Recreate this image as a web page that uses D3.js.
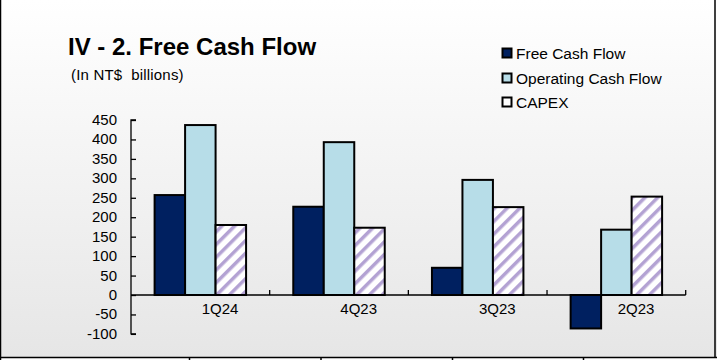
<!DOCTYPE html>
<html><head><meta charset="utf-8">
<script src="https://cdn.jsdelivr.net/npm/d3@7"></script>
<style>html,body{margin:0;padding:0;background:#fff;}svg{display:block;font-family:"Liberation Sans",Arial,sans-serif;}</style>
</head><body>
<script>
const categories = ["1Q24","4Q23","3Q23","2Q23"];
const seriesNames = ["Free Cash Flow","Operating Cash Flow","CAPEX"];
const freeCashFlow = [257, 227, 70, -86];
const operatingCashFlow = [437, 393, 296, 168];
const capex = [180, 173, 226, 253];
const yTicks = [450,400,350,300,250,200,150,100,50,0,-50,-100];

const W = 717, H = 360;
const svg = d3.select("body").append("svg").attr("width", W).attr("height", H);
const defs = svg.append("defs");
const grad = defs.append("linearGradient").attr("id","bg").attr("x1",0).attr("y1",0).attr("x2",0).attr("y2",1);
grad.append("stop").attr("offset","0%").attr("stop-color","#ffffff");
grad.append("stop").attr("offset","100%").attr("stop-color","#e6e6e6");
const pat = defs.append("pattern").attr("id","hatch").attr("patternUnits","userSpaceOnUse")
  .attr("width",9).attr("height",9).attr("patternTransform","rotate(45)");
pat.append("rect").attr("width",9).attr("height",9).attr("fill","#ffffff");
pat.append("rect").attr("x",0).attr("width",3.5).attr("height",9).attr("fill","#b3a2d3");

svg.append("rect").attr("x",0).attr("y",0).attr("width",W).attr("height",357).attr("fill","url(#bg)");

// frame
svg.append("line").attr("x1",0.5).attr("x2",0.5).attr("y1",0).attr("y2",H).attr("stroke","#000").attr("stroke-width",1.5);
svg.append("line").attr("x1",715).attr("x2",715).attr("y1",0).attr("y2",357).attr("stroke","#000").attr("stroke-width",1.5);
svg.append("line").attr("x1",0).attr("x2",W).attr("y1",357.5).attr("y2",357.5).attr("stroke","#000").attr("stroke-width",1.5);
[189.5, 321, 452.5, 583.5].forEach(x=>{
  svg.append("line").attr("x1",x).attr("x2",x).attr("y1",357).attr("y2",H).attr("stroke","#000").attr("stroke-width",1.5);
});

// title
svg.append("text").attr("x",68).attr("y",55).attr("font-size",24).attr("font-weight","bold").attr("fill","#000")
  .text("IV - 2. Free Cash Flow");
svg.append("text").attr("x",71).attr("y",80).attr("font-size",15).attr("letter-spacing",0.2).attr("fill","#000")
  .attr("xml:space","preserve").style("white-space","pre")
  .text("(In NT$  billions)");

// legend
const legColors = ["#002060","#b7dde8","#ffffff"];
const legY = [53, 78, 102];
seriesNames.forEach((s,i)=>{
  svg.append("rect").attr("x",502.5).attr("y",legY[i]-4.5).attr("width",9).attr("height",9)
    .attr("fill",legColors[i]).attr("stroke","#000").attr("stroke-width",2);
  svg.append("text").attr("x",516).attr("y",legY[i]+5.5).attr("font-size",15.5).attr("fill","#000").text(s);
});

// scales
const x0 = d3.scaleBand().domain(categories).range([131, 685.7]).padding(0);
const x1 = d3.scaleBand().domain(seriesNames).range([0, x0.bandwidth()]).paddingInner(0).paddingOuter(0.774);
const y = d3.scaleLinear().domain([-100, 450]).range([333.9, 120]);

const data = [freeCashFlow, operatingCashFlow, capex];
const fills = ["#002060","#b7dde8","url(#hatch)"];

// bars
seriesNames.forEach((s,si)=>{
  svg.append("g").selectAll("rect").data(categories).join("rect")
    .attr("x", c=>x0(c)+x1(s))
    .attr("width", x1.bandwidth())
    .attr("y", (c,i)=>y(Math.max(0,data[si][i])))
    .attr("height", (c,i)=>Math.abs(y(data[si][i])-y(0)))
    .attr("fill", fills[si]).attr("stroke","#000").attr("stroke-width",2);
});

// y axis
const yAxis = d3.axisRight(y).tickValues(yTicks).tickSize(5).tickFormat("");
const ga = svg.append("g").attr("transform","translate(131,0)").call(yAxis);
ga.select(".domain").attr("d", `M5,${y(450)}H0V${y(-100)}H5`).attr("stroke","#000").attr("stroke-width",1.3);
ga.selectAll(".tick line").attr("stroke","#000").attr("stroke-width",1.3);
svg.append("g").selectAll("text").data(yTicks).join("text")
  .attr("x",117).attr("y",d=>y(d)+5).attr("text-anchor","end").attr("font-size",15).attr("fill","#000")
  .text(d=>d);

// x axis at zero
const xAxis = d3.axisTop(x0).tickSize(0).tickFormat("");
const gx = svg.append("g").attr("transform",`translate(0,${y(0)})`).call(xAxis);
gx.select(".domain").attr("d", `M131,0H685.7`).attr("stroke","#000").attr("stroke-width",1.5);
svg.append("g").selectAll("line").data(categories).join("line")
  .attr("x1",c=>x0(c)+x0.bandwidth()).attr("x2",c=>x0(c)+x0.bandwidth())
  .attr("y1",y(0)).attr("y2",y(0)-5).attr("stroke","#000").attr("stroke-width",1.3);
svg.append("g").selectAll("text").data(categories).join("text")
  .attr("x",c=>x0(c)+x0.bandwidth()*0.642).attr("y",314).attr("text-anchor","middle")
  .attr("font-size",15).attr("fill","#000").text(c=>c);
</script>
</body></html>
